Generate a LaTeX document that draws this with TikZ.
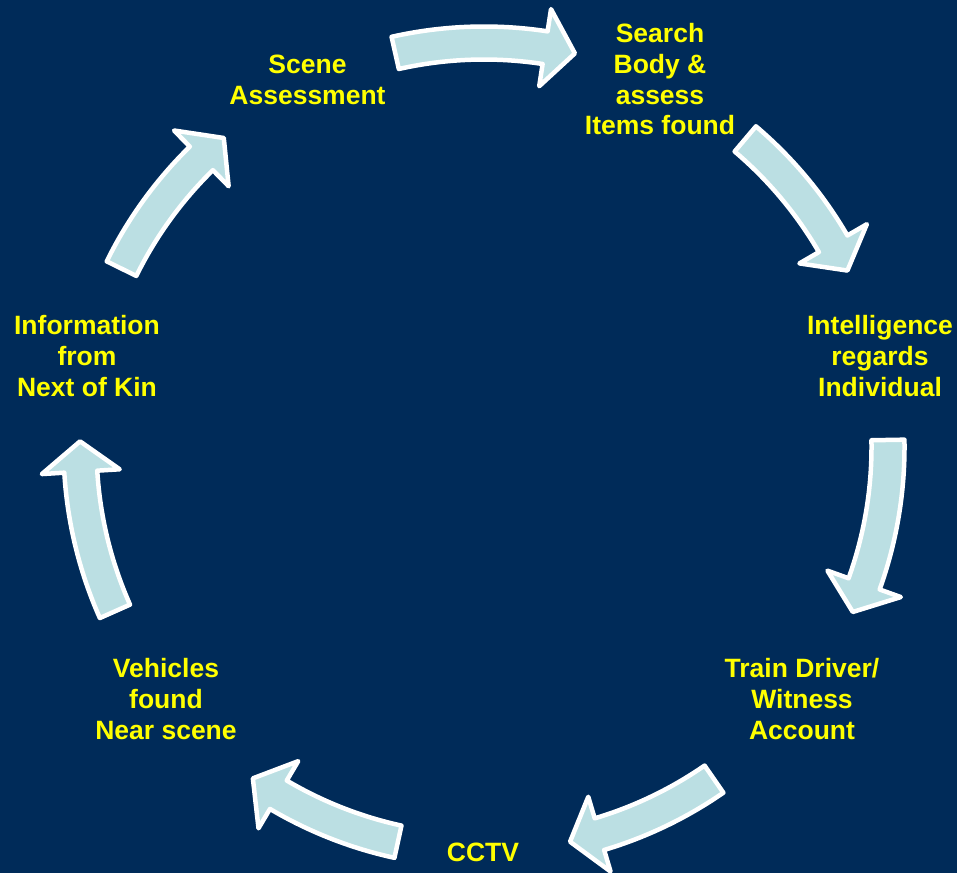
\documentclass[tikz,border=0pt]{standalone}
\usepackage{fontspec}
\setmainfont{Liberation Sans}
\definecolor{navybg}{RGB}{0,43,89}
\definecolor{arrowfill}{RGB}{187,223,227}
\definecolor{labelyellow}{RGB}{255,255,0}
\newcommand\lblfont{\fontsize{26.5}{30.7}\selectfont\bfseries}
% cycle arrow: #1 tail angle, #2 tip angle (clockwise)
\newcommand\cyclearrow[2]{%
  \pgfmathsetmacro\hb{#2+4.3}%
  \path[cyclearrowstyle]
    (#1:420.5) arc[start angle=#1, end angle=\hb, radius=420.5]
    -- (\hb:443) -- (#2:404) -- (\hb:365) -- (\hb:387.5)
    arc[start angle=\hb, end angle=#1, radius=387.5] -- cycle;}
\begin{document}
\begin{tikzpicture}[x=1pt,y=1pt,
  cyclearrowstyle/.style={fill=arrowfill, draw=white, line width=4.5pt, line join=round},
  lbl/.style={font=\lblfont, text=labelyellow, align=center, inner sep=0pt, anchor=north}]
\fill[navybg] (0,0) rectangle (957,-873);
\useasboundingbox (0,0) rectangle (957,-873);
\begin{scope}[shift={(484,-447)}]
  \cyclearrow{102.7}{77.0}
  \cyclearrow{49.7}{25.9}
  \cyclearrow{1.0}{-24.1}
  \cyclearrow{-55.3}{-77.7}
  \cyclearrow{-102.3}{-124.9}
  \cyclearrow{204.0}{179.2}
  \cyclearrow{153.8}{130.1}
\end{scope}
\node[lbl] (scene) at (307.5,-52) {\strut Scene\\Assessment};
\node[lbl] (search) at (660,-21) {\strut Search\\Body \&\\assess\\Items found};
\node[lbl] (intel) at (880,-313) {\strut Intelligence\\regards\\Individual};
\node[lbl] (train) at (802,-656) {\strut Train Driver/\\Witness\\Account};
\node[lbl] (cctv) at (483,-840) {\strut CCTV};
\node[lbl] (vehicles) at (166,-656) {\strut Vehicles\\found\\Near scene};
\node[lbl] (info) at (87,-313) {\strut Information\\from\\Next of Kin};
\end{tikzpicture}
\end{document}
